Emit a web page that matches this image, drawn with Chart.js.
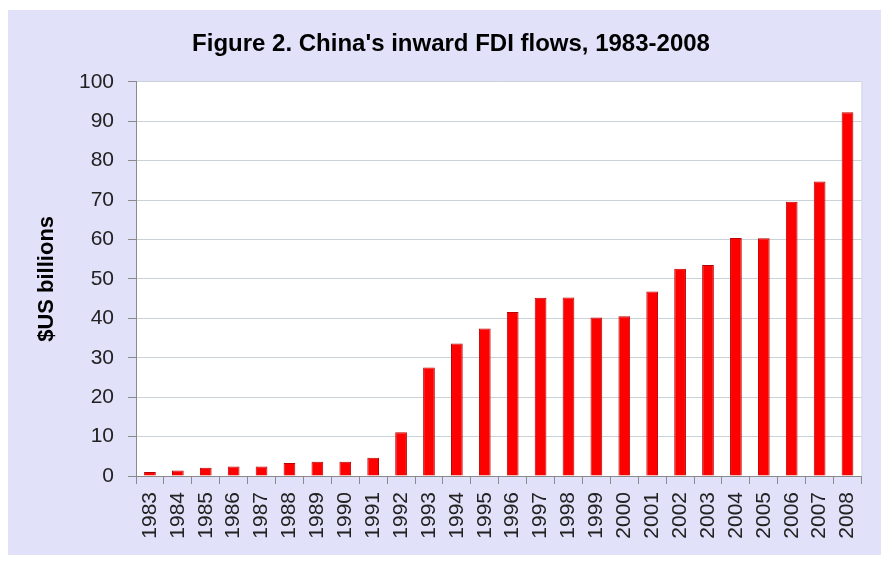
<!DOCTYPE html>
<html>
<head>
<meta charset="utf-8">
<script src="https://cdn.jsdelivr.net/npm/chart.js@4"></script>
<style>
    body { margin: 0; background: #ffffff; }
    #wrap { position: relative; width: 881px; height: 562px; }
</style>
</head>
<body>
<div id="wrap"><canvas id="fdiChart" width="881" height="562"></canvas></div>
<script>
const years = ['1983', '1984', '1985', '1986', '1987', '1988', '1989', '1990', '1991', '1992',
    '1993', '1994', '1995', '1996', '1997', '1998', '1999', '2000', '2001', '2002',
    '2003', '2004', '2005', '2006', '2007', '2008'];
const fdiFlows = [1.0, 1.4, 2.1, 2.4, 2.4, 3.3, 3.6, 3.6, 4.6, 11.1,
    27.5, 33.6, 37.4, 41.6, 45.2, 45.3, 40.2, 40.5, 46.8, 52.6,
    53.5, 60.4, 60.3, 69.6, 74.7, 92.3];
const yTicks = [0, 10, 20, 30, 40, 50, 60, 70, 80, 90, 100];

const chartTitle = "Figure 2. China's inward FDI flows, 1983-2008";
const yAxisTitle = '$US billions';

// lavender frame + white plot area
const backdrop = {
    id: 'backdrop',
    beforeDraw(chart) {
        const ctx = chart.ctx;
        const a = chart.chartArea;
        ctx.save();
        ctx.fillStyle = '#e1e1f9';
        ctx.fillRect(8, 10, chart.width - 8, chart.height - 17);
        ctx.fillStyle = '#ffffff';
        ctx.fillRect(a.left, a.top, a.right - a.left, a.bottom - a.top);
        ctx.strokeStyle = '#d4d8e0';
        ctx.lineWidth = 1;
        ctx.beginPath();
        ctx.moveTo(a.right + 0.5, a.top);
        ctx.lineTo(a.right + 0.5, a.bottom);
        ctx.stroke();
        ctx.restore();
    }
};

new Chart(document.getElementById('fdiChart'), {
    type: 'bar',
    data: {
        labels: years,
        datasets: [{
            data: fdiFlows,
            backgroundColor: '#ff0000',
            borderColor: '#b80000',
            borderWidth: 1,
            barPercentage: 0.42,
            categoryPercentage: 1.0
        }]
    },
    options: {
        responsive: false,
        animation: false,
        layout: { padding: { left: 36, right: 15, top: 0, bottom: 0 } },
        plugins: {
            legend: { display: false },
            tooltip: { enabled: false },
            title: {
                display: true,
                text: chartTitle,
                color: '#000000',
                font: { family: 'Liberation Sans, Arial, sans-serif', size: 24, weight: 'bold' },
                padding: { top: 30, bottom: 23 }
            }
        },
        scales: {
            x: {
                grid: {
                    offset: true,
                    drawOnChartArea: false,
                    tickLength: 8,
                    tickColor: '#8a8a8a'
                },
                border: { color: '#8a8a8a' },
                ticks: {
                    minRotation: 90,
                    maxRotation: 90,
                    autoSkip: false,
                    padding: 8,
                    color: '#222222',
                    font: { family: 'Liberation Sans, Arial, sans-serif', size: 21 }
                },
                afterFit(scale) { scale.height = 86; }
            },
            y: {
                min: 0,
                max: 100,
                afterBuildTicks(scale) { scale.ticks = yTicks.map(v => ({ value: v })); },
                grid: {
                    color: '#c9d1d9',
                    tickColor: '#8a8a8a',
                    tickLength: 8
                },
                border: { color: '#8a8a8a' },
                ticks: {
                    padding: 14,
                    color: '#222222',
                    font: { family: 'Liberation Sans, Arial, sans-serif', size: 21 }
                },
                title: {
                    display: true,
                    text: yAxisTitle,
                    color: '#000000',
                    font: { family: 'Liberation Sans, Arial, sans-serif', size: 22, weight: 'bold' },
                    padding: { top: -2, bottom: 0 }
                },
                afterFit(scale) { scale.width = 100; }
            }
        }
    },
    plugins: [backdrop]
});
</script>
</body>
</html>
